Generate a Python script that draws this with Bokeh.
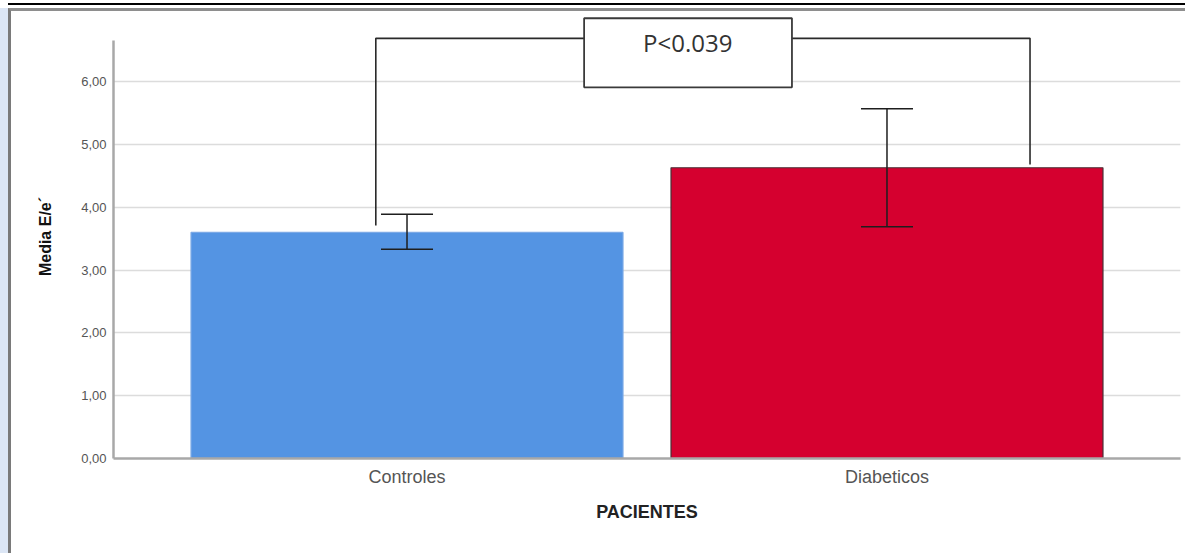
from bokeh.plotting import figure
from bokeh.models import (ColumnDataSource, FactorRange, Range1d, Whisker, TeeHead,
                          FixedTicker)
from bokeh.embed import file_html
from bokeh.resources import INLINE
from bokeh.core.properties import value

# ---- data ----
categories = ["Controles", "Diabeticos"]
means = [3.60, 4.63]
err_upper = [3.89, 5.57]
err_lower = [3.33, 3.69]
bar_colors = ["#5494E3", "#D5002F"]
bar_outlines = ["#7BA9E6", "#4A3036"]
y_ticks = [0, 1, 2, 3, 4, 5, 6]
y_tick_labels = ["0,00", "1,00", "2,00", "3,00", "4,00", "5,00", "6,00"]
x_label = "PACIENTES"
y_label = "Media E/e´"
p_text = "P<0.039"

# significance bracket (category, offset) and heights
bracket_x = [("Controles", -0.065), ("Controles", -0.065),
             ("Diabeticos", 0.298), ("Diabeticos", 0.298)]
bracket_y = [3.71, 6.69, 6.69, 4.68]
box_left = ("Controles", 0.369)
box_right = ("Controles", 0.802)
box_bottom = 5.91
box_top = 7.01
text_x = ("Controles", 0.585)
text_y = 6.62

FONT = "Liberation Sans"

p = figure(width=1177, height=545, output_backend="svg", toolbar_location=None,
           x_range=FactorRange(*categories, range_padding=0.1115),
           y_range=Range1d(0, 7.07),
           min_border_left=102, min_border_right=8, min_border_top=3,
           min_border_bottom=98)
p.styles = {
    "margin-left": "8px",
    "margin-top": "8px",
    "border-left": "3px solid #7a7a7a",
    "border-top": "3px solid #8e8e8e",
    "box-shadow": "0 -3px 0 0 #ffffff, 0 -5px 0 0 #000000, -8px 0 0 0 #dce6f5",
}
p.outline_line_color = None
p.background_fill_color = "white"
p.border_fill_color = "white"

src = ColumnDataSource(dict(cat=categories, mean=means, upper=err_upper,
                            lower=err_lower, color=bar_colors, outline=bar_outlines))

p.vbar(x="cat", top="mean", bottom=0, width=0.9, source=src,
       fill_color="color", line_color="outline", line_width=1.2)

whisk = Whisker(source=src, base="cat", upper="upper", lower="lower",
                line_color="#1e1e1e", line_width=1.5, level="overlay",
                upper_head=TeeHead(size=52, line_color="#1e1e1e", line_width=1.5),
                lower_head=TeeHead(size=52, line_color="#1e1e1e", line_width=1.5))
p.add_layout(whisk)

# bracket
bsrc = ColumnDataSource(dict(x=bracket_x, y=bracket_y))
p.line(x="x", y="y", source=bsrc, line_color="#2a2a2a", line_width=1.6)

# P-value box
boxsrc = ColumnDataSource(dict(l=[box_left], r=[box_right], b=[box_bottom], t=[box_top]))
p.quad(left="l", right="r", bottom="b", top="t", source=boxsrc,
       fill_color="white", line_color="#3a3a3a", line_width=1.8)
tsrc = ColumnDataSource(dict(x=[text_x], y=[text_y], t=[p_text]))
p.text(x="x", y="y", text="t", source=tsrc, text_align="center",
       text_baseline="middle", text_font=value("Open Sans"),
       text_font_size="24px", text_color="#333333")

# grid
p.xgrid.grid_line_color = None
p.ygrid.ticker = FixedTicker(ticks=y_ticks)
p.ygrid.grid_line_color = "#DCDCDC"
p.ygrid.grid_line_width = 1.3

# y axis
ya = p.yaxis[0]
ya.ticker = FixedTicker(ticks=y_ticks)
ya.major_label_overrides = {t: l for t, l in zip(y_ticks, y_tick_labels)}
ya.bounds = (0, 6.66)
ya.axis_line_color = "#A8A8A8"
ya.axis_line_width = 2.5
ya.major_tick_line_color = None
ya.minor_tick_line_color = None
ya.major_tick_out = 0
ya.major_tick_in = 0
ya.major_label_standoff = 7
ya.major_label_text_font = FONT
ya.major_label_text_font_size = "13px"
ya.major_label_text_color = "#555555"
ya.axis_label = y_label
ya.axis_label_text_font = FONT
ya.axis_label_text_font_style = "bold"
ya.axis_label_text_font_size = "16px"
ya.axis_label_text_color = "#111111"
ya.axis_label_standoff = 24

# x axis
xa = p.xaxis[0]
xa.axis_line_color = "#A8A8A8"
xa.axis_line_width = 2.5
xa.major_tick_line_color = None
xa.minor_tick_line_color = None
xa.major_tick_out = 0
xa.major_tick_in = 0
xa.major_label_standoff = 8
xa.major_label_text_font = FONT
xa.major_label_text_font_size = "18px"
xa.major_label_text_color = "#555555"
xa.axis_label = x_label
xa.axis_label_text_font = FONT
xa.axis_label_text_font_style = "bold"
xa.axis_label_text_font_size = "18px"
xa.axis_label_text_color = "#222222"
xa.axis_label_standoff = 12

open("out.html", "w").write(file_html(p, INLINE))
